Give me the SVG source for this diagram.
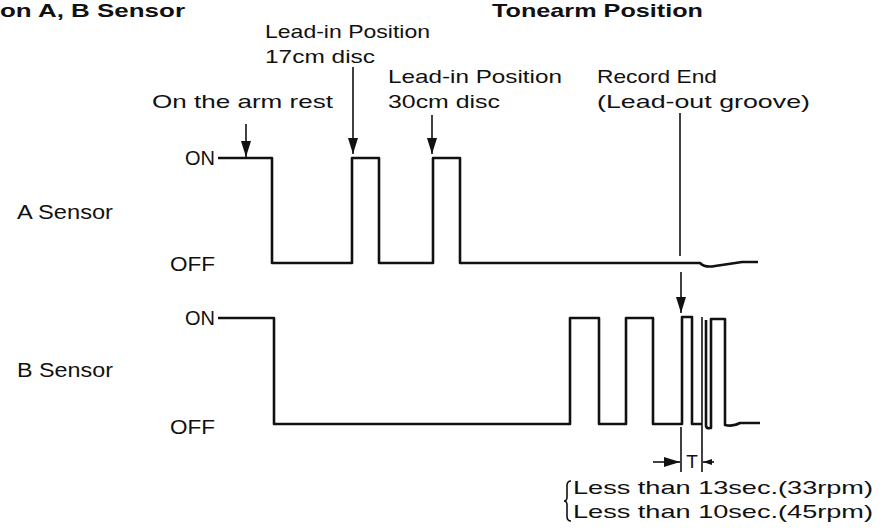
<svg xmlns="http://www.w3.org/2000/svg" width="889" height="528" viewBox="0 0 889 528">
<style>
.t{font-family:"Liberation Sans",Arial,sans-serif;font-size:19px;fill:#111}
.b{font-family:"Liberation Sans",Arial,sans-serif;font-size:19px;font-weight:bold;fill:#111}
.lv{font-family:"Liberation Sans",Arial,sans-serif;font-size:20px;fill:#111}
.w{fill:none;stroke:#111;stroke-width:2.6;stroke-linejoin:round}
.c{fill:none;stroke:#111;stroke-width:1.6}
</style>
<defs>
<marker id="ah" markerWidth="16" markerHeight="10" refX="16" refY="5" orient="auto" markerUnits="userSpaceOnUse" viewBox="0 0 16 10">
<path d="M0,0 L16,5 L0,10 Z" fill="#111"/>
</marker>
<marker id="sh" markerWidth="9" markerHeight="6" refX="9" refY="3" orient="auto" markerUnits="userSpaceOnUse" viewBox="0 0 9 6">
<path d="M0,0 L9,3 L0,6 Z" fill="#111"/>
</marker>
</defs>
<rect width="889" height="528" fill="#fff"/>
<g id="title">
<text class="b" x="0" y="17" textLength="185" lengthAdjust="spacingAndGlyphs">on A, B Sensor</text>
<text class="b" x="492" y="17" textLength="211" lengthAdjust="spacingAndGlyphs">Tonearm Position</text>
</g>
<g id="label-armrest"><text class="t" x="152" y="108" textLength="181" lengthAdjust="spacingAndGlyphs">On the arm rest</text></g>
<g id="label-17cm">
<text class="t" x="265" y="38" textLength="165" lengthAdjust="spacingAndGlyphs">Lead-in Position</text>
<text class="t" x="265" y="63" textLength="110" lengthAdjust="spacingAndGlyphs">17cm disc</text>
</g>
<g id="label-30cm">
<text class="t" x="388" y="83" textLength="174" lengthAdjust="spacingAndGlyphs">Lead-in Position</text>
<text class="t" x="388" y="108" textLength="112" lengthAdjust="spacingAndGlyphs">30cm disc</text>
</g>
<g id="label-end">
<text class="t" x="597" y="83" textLength="120" lengthAdjust="spacingAndGlyphs">Record End</text>
<text class="t" x="597" y="108" textLength="213" lengthAdjust="spacingAndGlyphs">(Lead-out groove)</text>
</g>
<g id="a-sensor">
<text class="lv" x="17" y="219" textLength="96" lengthAdjust="spacingAndGlyphs">A Sensor</text>
<text class="lv" x="185" y="165" textLength="30" lengthAdjust="spacingAndGlyphs">ON</text>
<text class="lv" x="170" y="271" textLength="45" lengthAdjust="spacingAndGlyphs">OFF</text>
<path class="w" d="M218,158 H272 V263 H352 V158 H379 V263 H433 V158 H460 V263 H700 Q705,268 715,266 L742,262 H758"/>
</g>
<g id="b-sensor">
<text class="lv" x="17" y="377" textLength="96" lengthAdjust="spacingAndGlyphs">B Sensor</text>
<text class="lv" x="185" y="325" textLength="30" lengthAdjust="spacingAndGlyphs">ON</text>
<text class="lv" x="170" y="434" textLength="45" lengthAdjust="spacingAndGlyphs">OFF</text>
<path class="w" d="M218,318 H274 V424 H570 V318 H599 V424 H626 V318 H653 V424 H682 V317 H692 V424 H702"/>
<path class="w" d="M706,320 V426 Q707,429 710,428 H711 V319 H725 V425 Q733,427 740,423 H760"/>
</g>
<g id="connectors">
<line class="c" x1="246" y1="124" x2="246" y2="157" marker-end="url(#ah)"/>
<line class="c" x1="353" y1="67" x2="353" y2="154" marker-end="url(#ah)"/>
<line class="c" x1="432" y1="115" x2="432" y2="154" marker-end="url(#ah)"/>
<line class="c" x1="680" y1="113" x2="680" y2="256"/>
<line class="c" x1="681" y1="272" x2="681" y2="313" marker-end="url(#ah)"/>
<line class="c" x1="681" y1="427" x2="681" y2="472"/>
<line class="c" x1="702" y1="317" x2="702" y2="472"/>
<line class="c" x1="653" y1="462" x2="680" y2="462" marker-end="url(#ah)"/>
<line class="c" x1="714" y1="462" x2="703" y2="462" marker-end="url(#sh)"/>
</g>
<g id="timing-note">
<text class="t" x="692" y="468" text-anchor="middle" font-size="16">T</text>
<path class="c" d="M571,481 Q567,481 567,486 V497 Q567,501 564,501 Q567,501 567,505 V516 Q567,521 571,521"/>
<text class="t" x="573" y="494" textLength="300" lengthAdjust="spacingAndGlyphs">Less than 13sec.(33rpm)</text>
<text class="t" x="573" y="518" textLength="300" lengthAdjust="spacingAndGlyphs">Less than 10sec.(45rpm)</text>
</g>
</svg>
